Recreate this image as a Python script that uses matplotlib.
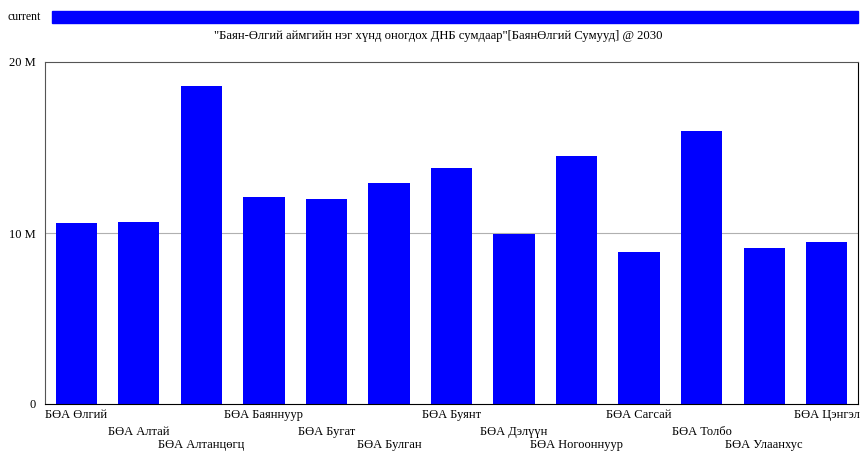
import matplotlib
matplotlib.use("Agg")
import matplotlib.pyplot as plt
from matplotlib.patches import Rectangle

categories = ["БӨА Өлгий", "БӨА Алтай", "БӨА Алтанцөгц", "БӨА Баяннуур", "БӨА Бугат",
              "БӨА Булган", "БӨА Буянт", "БӨА Дэлүүн", "БӨА Ногооннуур", "БӨА Сагсай",
              "БӨА Толбо", "БӨА Улаанхус", "БӨА Цэнгэл"]
values = [10.56e6, 10.62e6, 18.59e6, 12.08e6, 11.96e6, 12.90e6, 13.78e6,
          9.97e6, 14.49e6, 8.91e6, 15.95e6, 9.15e6, 9.50e6]
yticks = [0, 10e6, 20e6]
ytick_labels = ["0", "10 M", "20 M"]
series_name = "current"
title = "\"Баян-Өлгий аймгийн нэг хүнд оногдох ДНБ сумдаар\"[БаянӨлгий Сумууд] @ 2030"

plt.rcParams['font.family'] = ['Liberation Serif', 'DejaVu Serif']

fig = plt.figure(figsize=(8.61, 4.53), dpi=100)
W, H = 861, 453
ax = fig.add_axes([45 / W, 1 - 404 / H, (858 - 45) / W, (404 - 62) / H])

x = list(range(len(categories)))
ax.bar(x, values, width=0.66, color="#0000ff", zorder=2)
ax.set_xlim(-0.5, len(categories) - 0.5)
ax.set_ylim(0, 20e6)
ax.set_yticks(yticks)
ax.set_yticklabels(ytick_labels, fontsize=9)
ax.tick_params(axis='y', length=0, pad=6.5)
ax.set_xticks([])
ax.axhline(10e6, color="#b0b0b0", lw=0.8, zorder=1)
for s in ['left', 'top']:
    ax.spines[s].set_color("#555555")
for s in ['right', 'bottom']:
    ax.spines[s].set_color("#000000")

offsets = [-11, -28, -41]
for i, c in enumerate(categories):
    ax.annotate(c, xy=(i, 0), xycoords=('data', 'axes fraction'),
                xytext=(0, offsets[i % 3]), textcoords='offset pixels',
                ha='center', va='center', fontsize=9)

# legend
fig.add_artist(Rectangle((52 / W, 1 - 23 / H), (858 - 52) / W, 12 / H,
                         transform=fig.transFigure, color="#0000ff"))
fig.text(8 / W, 1 - 17 / H, series_name, fontsize=8.5, va='center', ha='left')
fig.text(438 / W, 1 - 36 / H, title, fontsize=9.1, va='center', ha='center')

fig.savefig("out.png", dpi=100)
